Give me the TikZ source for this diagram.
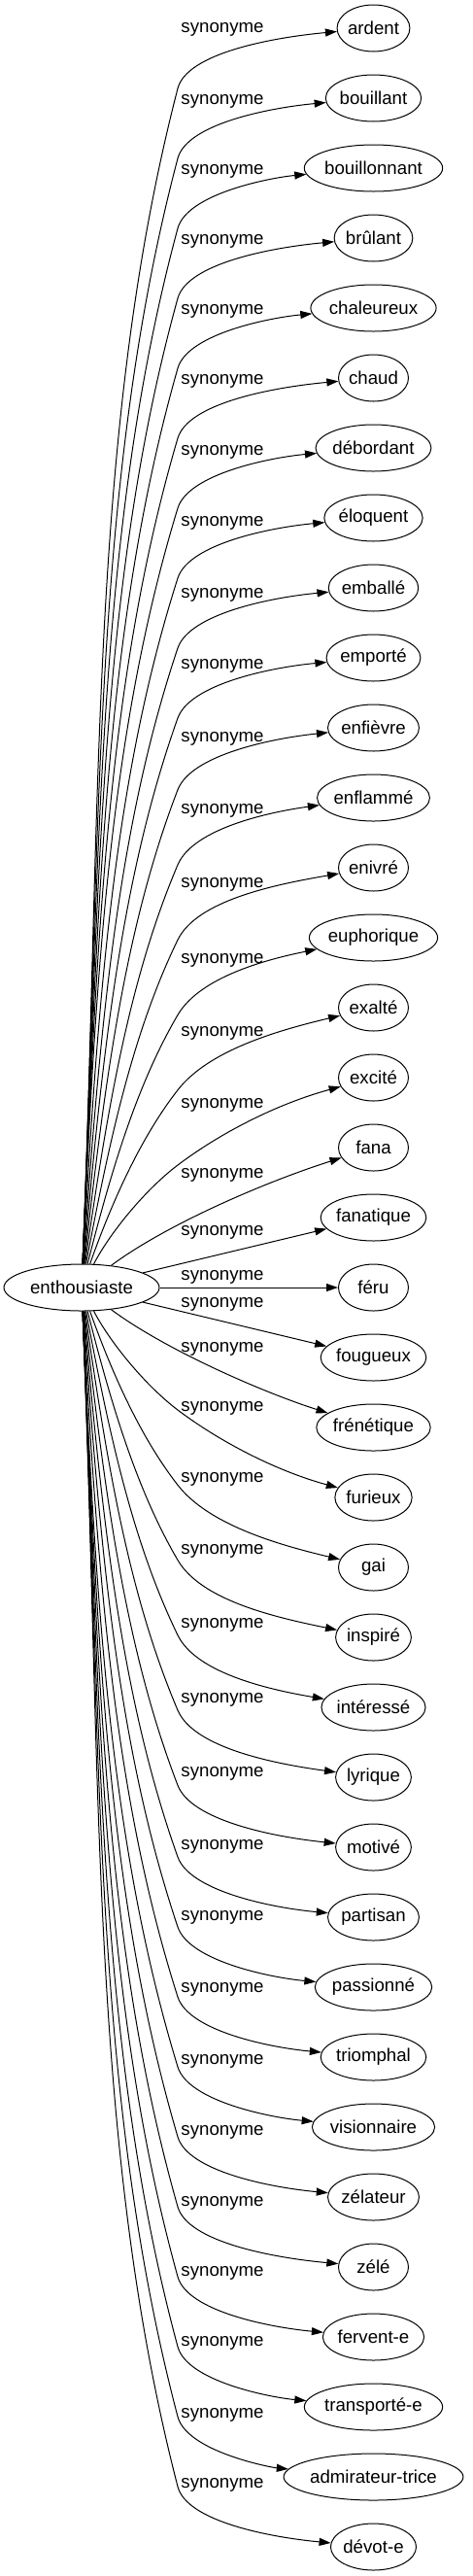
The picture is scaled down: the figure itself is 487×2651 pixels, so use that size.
\documentclass[tikz,border=0pt]{standalone}
\usepackage{fontspec}
\setmainfont{Liberation Sans}
\newfontfamily\timesf{Liberation Serif}
\usetikzlibrary{shapes.geometric,arrows.meta}
\newlength\wordw
\newif\ifgeneric
\begin{document}
\begin{tikzpicture}[x=1pt,y=-1pt,
  every node/.style={font=\fontsize{18.67}{22}\selectfont},
  syn/.style={ellipse, draw, line width=1pt, minimum height=48pt, inner sep=0pt},
  lbl/.style={inner sep=0pt},
  edge/.style={line width=1pt, -{Triangle[length=12pt,width=8pt]}}]
\fill[white] (0,0) rectangle (487,2651);
\useasboundingbox (0,0) rectangle (487,2651);
\node[syn, minimum width=160pt] (root) at (84,1325) {enthousiaste};
\foreach \i/\wrd/\lab in {0/ardent/30, 1/bouillant/104, 2/bouillonnant/176, 3/brûlant/248,
  4/chaleureux/320, 5/chaud/392, 6/débordant/465, 7/éloquent/538, 8/emballé/612,
  9/emporté/685, 10/enfièvre/760, 11/enflammé/834, 12/enivré/910, 13/euphorique/988,
  14/exalté/1063, 15/excité/1137, 16/fana/1209, 17/fanatique/1268, 18/féru/1314,
  19/fougueux/1342, 20/frénétique/1388, 21/furieux/1449, 22/gai/1522, 23/inspiré/1596,
  24/intéressé/1672, 25/lyrique/1749, 26/motivé/1825, 27/partisan/1900, 28/passionné/1973,
  29/triomphal/2047, 30/visionnaire/2121, 31/zélateur/2194, 32/zélé/2267, 33/fervent-e/2339,
  34/transporté-e/2411, 35/admirateur-trice/2485, 36/dévot-e/2557} {
  \settowidth\wordw{\fontsize{18.67}{22}\timesf \wrd}
  \pgfmathsetmacro\nw{max(72,1.4142*(\wordw+21.12))}
  \pgfmathsetmacro\myT{29+72*\i}
  \node[syn, minimum width=\nw pt] (n\i) at (384.5,\myT) {\wrd};
  \node[lbl] (l\i) at (229,\lab) {synonyme};
  \ifnum\i<16 \def\mys{-1}\else\def\mys{1}\fi
  \pgfmathsetmacro\myD{abs(\myT-1325)}
  \pgfmathsetmacro\myfr{min(1,max(0,(600-\myD)/384))}
  \pgfmathsetmacro\mya{62+28*\myfr}
  \pgfmathsetmacro\myyA{\myT-(\mys)*\mya}
  \pgfmathsetmacro\myyO{1325+(\mys)*24}
  \pgfmathsetmacro\myH{abs(\myyA-\myyO)}
  \pgfmathsetmacro\mychi{atan2(\myH,95)}
  \pgfmathsetmacro\myal{min(88,\mychi+5)}
  \pgfmathsetmacro\myph{\mychi-10}
  \pgfmathsetmacro\cax{88+0.4*\myH*cos(\myal)}
  \pgfmathsetmacro\cay{\myyO+(\mys)*0.4*\myH*sin(\myal)}
  \pgfmathsetmacro\myk{0.3*\myH/sin(\mychi)}
  \pgfmathsetmacro\cbx{183-\myk*cos(\myph)}
  \pgfmathsetmacro\cby{\myyA-(\mys)*\myk*sin(\myph)}
  \pgfmathsetmacro\mym{0.6*\mya}
  \pgfmathsetmacro\ccx{183+\mym*cos(\myph)}
  \pgfmathsetmacro\ccy{\myyA+(\mys)*\mym*sin(\myph)}
  \pgfmathsetmacro\mybe{8+15*\myfr}
  \pgfmathsetmacro\myEx{384.5-\nw/2}
  \pgfmathsetmacro\cdx{\myEx-70*cos(\mybe)}
  \pgfmathsetmacro\cdy{\myT-(\mys)*70*sin(\mybe)}
  \genericfalse
  \ifnum\i<16 \generictrue\fi
  \ifnum\i>20 \generictrue\fi
  \ifnum\i=16
    \draw[edge] (root) .. controls (170,1261) and (271,1217) .. (n\i);
  \fi
  \ifnum\i=20
    \draw[edge] (root) .. controls (170,1389) and (271,1433) .. (n\i);
  \fi
  \ifnum\i=17 \draw[edge] (root) -- (n\i); \fi
  \ifnum\i=18 \draw[edge] (root) -- (n\i); \fi
  \ifnum\i=19 \draw[edge] (root) -- (n\i); \fi
  \ifgeneric
    \coordinate (a\i) at (183,\myyA);
    \draw[edge] (root) .. controls (\cax,\cay) and (\cbx,\cby) .. (a\i)
      .. controls (\ccx,\ccy) and (\cdx,\cdy) .. (n\i);
  \fi
}
\end{tikzpicture}
\end{document}
